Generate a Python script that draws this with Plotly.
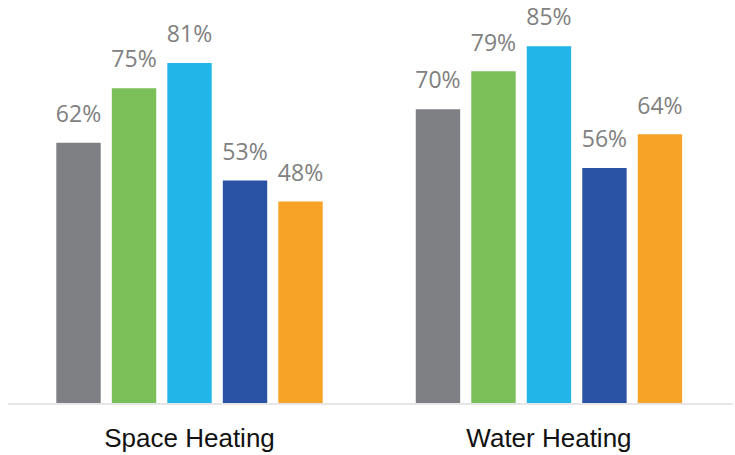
import plotly.graph_objects as go

categories = ["Space Heating", "Water Heating"]
series_names = ["S1", "S2", "S3", "S4", "S5"]
series_values = [
    [62, 70],
    [75, 79],
    [81, 85],
    [53, 56],
    [48, 64],
]
series_colors = ["#7f8083", "#7bbf59", "#22b5e7", "#2a53a6", "#f7a327"]
label_offset = 6.3  # label centre above bar top, in % units

fig = go.Figure()
for i, (name, vals, col) in enumerate(zip(series_names, series_values, series_colors)):
    fig.add_trace(go.Bar(
        x=categories, y=vals, name=name, marker_color=col,
        marker_line_width=0, offsetgroup=str(i), showlegend=False,
        hoverinfo="skip",
    ))
for i, (name, vals) in enumerate(zip(series_names, series_values)):
    fig.add_trace(go.Scatter(
        x=categories, y=[v + label_offset for v in vals], mode="text",
        text=[f"{v}%" for v in vals], textposition="middle center",
        textfont=dict(family="Open Sans", size=23, color="#808080"),
        offsetgroup=str(i), showlegend=False, cliponaxis=False,
        hoverinfo="skip",
    ))

fig.update_layout(
    width=735, height=455,
    margin=dict(l=8, r=2, t=0, b=52),
    paper_bgcolor="white", plot_bgcolor="white",
    barmode="group", bargap=0.228, bargroupgap=0.2,
    scattermode="group", scattergap=0.228,
    showlegend=False,
    xaxis=dict(
        range=[-0.505, 1.512], showgrid=False, zeroline=False,
        showline=True, linecolor="#e6e6e6", linewidth=2,
        ticks="", ticklabelstandoff=11,
        tickfont=dict(family="Liberation Sans, Arial", size=26, color="#111111"),
    ),
    yaxis=dict(range=[0, 96], visible=False, showgrid=False, zeroline=False),
)

fig.write_html("out.html")
